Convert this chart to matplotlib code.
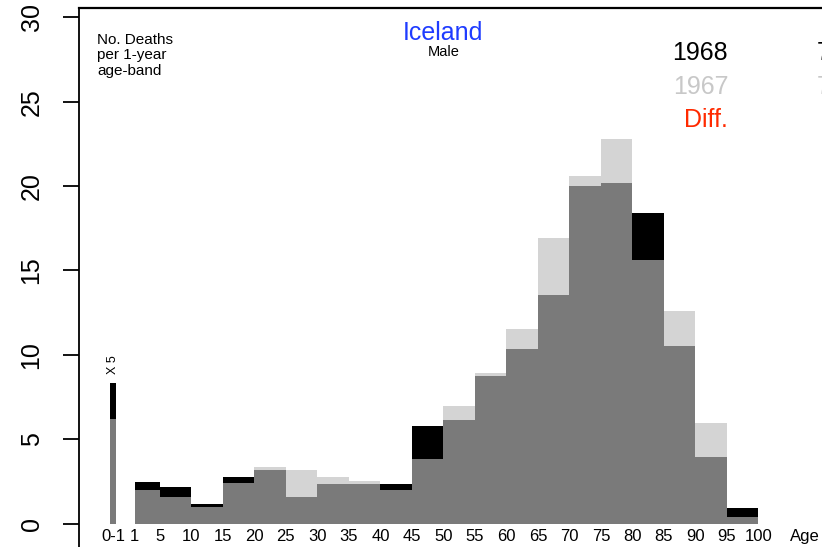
import matplotlib
matplotlib.use("Agg")
import matplotlib.pyplot as plt

plt.rcParams['font.family'] = ['Liberation Sans', 'DejaVu Sans']

# age bands (start, width) and deaths per 1-year age-band
band_start = [1, 5, 10, 15, 20, 25, 30, 35, 40, 45, 50, 55, 60, 65, 70, 75, 80, 85, 90, 95]
band_width = [4] + [5] * 19
deaths_1968 = [2.45, 2.15, 1.15, 2.75, 3.15, 1.55, 2.35, 2.35, 2.35, 5.8, 6.15, 8.75,
               10.35, 13.55, 20.0, 20.2, 18.4, 10.55, 3.95, 0.95]
deaths_1967 = [2.0, 1.6, 1.0, 2.4, 3.35, 3.15, 2.75, 2.55, 2.0, 3.8, 6.95, 8.95,
               11.55, 16.95, 20.6, 22.8, 15.6, 12.6, 5.95, 0.4]
# infant band, shown x 5
infant_1968 = 8.35
infant_1967 = 6.2

xtick_pos = [1] + list(range(5, 101, 5))
xtick_lab = [str(v) for v in xtick_pos]

col_base = "#7a7a7a"
col_less = "#d4d4d4"
col_more = "#000000"

fig = plt.figure(figsize=(8.22, 5.47), dpi=100)
ax = fig.add_axes([79 / 822, 0, 1 - 79 / 822, 1 - 8 / 547])

lo = [min(a, b) for a, b in zip(deaths_1968, deaths_1967)]
diff = [abs(a - b) for a, b in zip(deaths_1968, deaths_1967)]
tops = [col_more if a > b else col_less for a, b in zip(deaths_1968, deaths_1967)]
ax.bar(band_start, lo, width=band_width, align='edge', color=col_base, linewidth=0)
ax.bar(band_start, diff, width=band_width, bottom=lo, align='edge', color=tops, linewidth=0)

# 0-1 bar
ax.bar([-2.9], [min(infant_1968, infant_1967)], width=0.9, align='edge', color=col_base, linewidth=0)
ax.bar([-2.9], [abs(infant_1968 - infant_1967)], width=0.9, bottom=[min(infant_1968, infant_1967)],
       align='edge', color=col_more if infant_1968 > infant_1967 else col_less, linewidth=0)
ax.text(-2.45, 9.45, "X 5", rotation=90, ha='center', va='center', fontsize=9)

ax.set_xlim(-7.84, 110.1)
ax.set_ylim(-1.39, 30.56)

# x labels as text under the bars
for p, l in zip(xtick_pos, xtick_lab):
    ax.text(p, -0.75, l, ha='center', va='center', fontsize=12)
ax.text(-2.45, -0.75, "0-1", ha='center', va='center', fontsize=12)
ax.text(107.4, -0.75, "Age", ha='center', va='center', fontsize=12)
ax.set_xticks([])

ax.set_yticks(range(0, 31, 5))
ax.tick_params(axis='y', length=11.5, width=1.3, pad=14, labelsize=18)
for t in ax.get_yticklabels():
    t.set_rotation(90)
    t.set_va('center')

ax.spines['right'].set_visible(False)
ax.spines['bottom'].set_visible(False)
ax.spines['left'].set_linewidth(1.3)
ax.spines['top'].set_linewidth(1.6)

ax.text(-5.0, 29.1, "No. Deaths\nper 1-year\nage-band", ha='left', va='top', fontsize=11, linespacing=1.15)
ax.text(50, 29.07, "Iceland", ha='center', va='center', fontsize=18, color="#1f3cff")
ax.text(50, 27.95, "Male", ha='center', va='center', fontsize=10.5)

ax.text(95.2, 27.9, "1968", ha='right', va='center', fontsize=18, color="black")
ax.text(95.2, 25.9, "1967", ha='right', va='center', fontsize=18, color="#c8c8c8")
ax.text(95.2, 23.9, "Diff.", ha='right', va='center', fontsize=18, color="#ff2a00")
# totals column, cut by the right edge as in the original
ax.text(109.3, 27.9, "770", ha='left', va='center', fontsize=18, color="black", clip_on=False)
ax.text(109.3, 25.9, "760", ha='left', va='center', fontsize=18, color="#c8c8c8", clip_on=False)

fig.savefig("out.png", dpi=100)
